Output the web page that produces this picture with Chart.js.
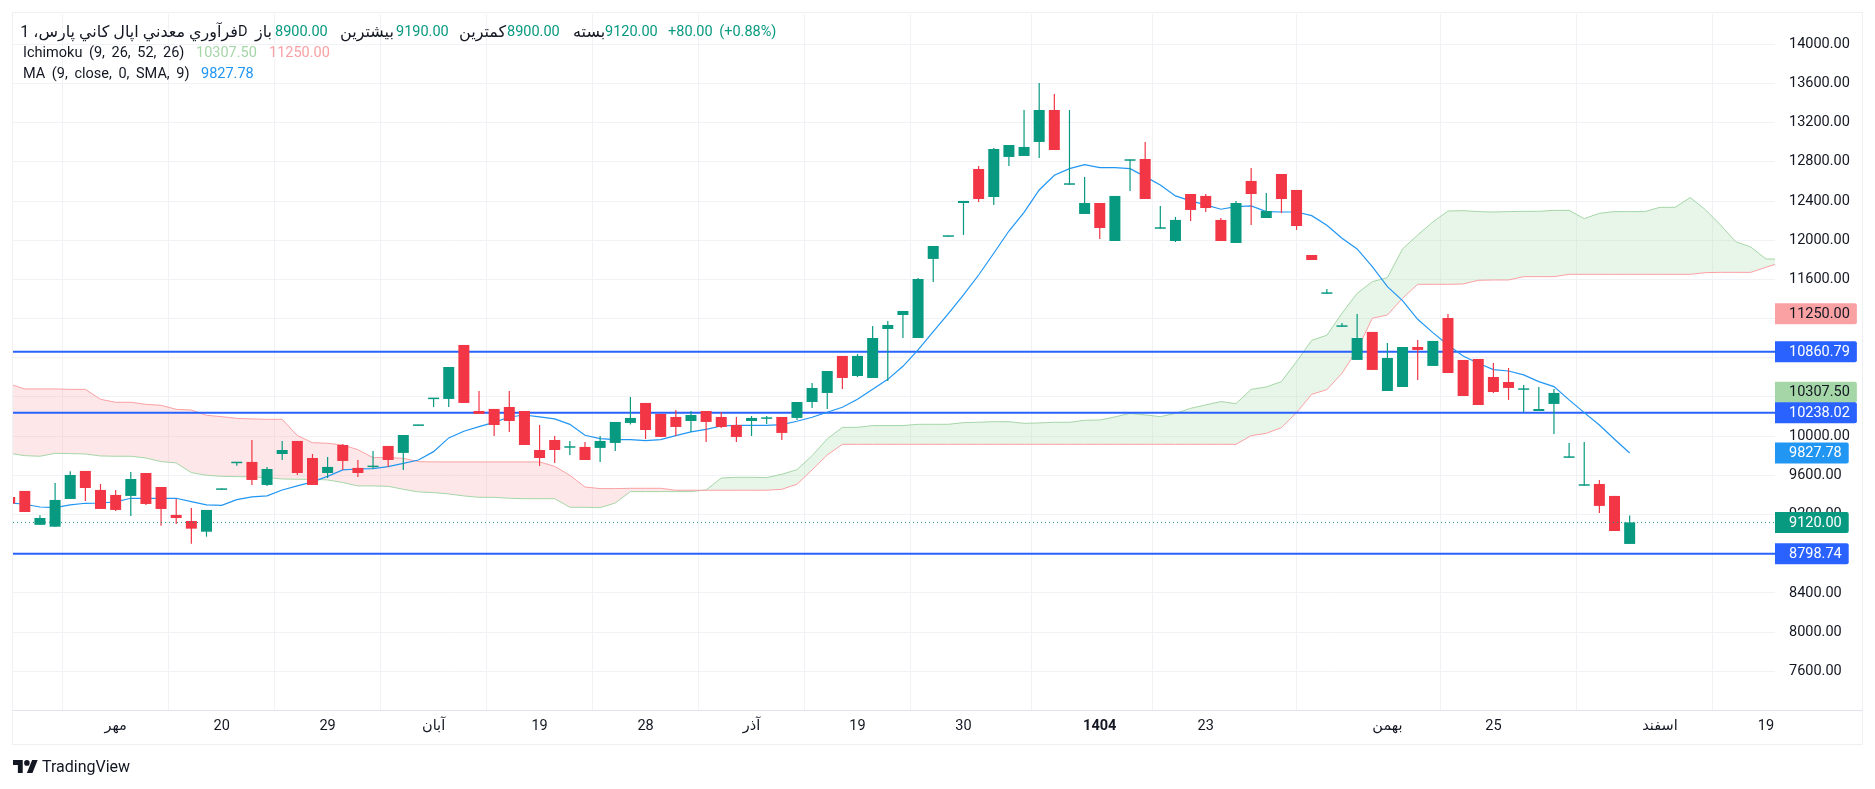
<!DOCTYPE html>
<html>
<head>
<meta charset="utf-8">
<style>
  html, body { margin: 0; background: #fff; overflow: hidden; }
  body { width: 1875px; height: 789px; position: relative; font: 14.5px Roboto, "DejaVu Sans", sans-serif; color: #131722; }
  #frame { position: absolute; left: 12px; top: 12px; width: 1849px; height: 731px; border: 1.5px solid #eef0f4; }
  #axisline { position: absolute; left: 1775px; top: 710px; width: 87px; height: 1px; background: #e0e3eb; }
  canvas { position: absolute; left: 0; top: 0; }
  .t { position: absolute; white-space: nowrap; line-height: 18px; word-spacing: 3px; }
  .fa { font-size: 16px; word-spacing: 0; }
  .up { color: #089981; }
  #logo { position: absolute; left: 13px; top: 760px; width: 25px; height: 13px; }
</style>
</head>
<body>
<div id="frame"></div>
<div id="axisline"></div>
<canvas id="grafico" width="1875" height="789" style="width:1875px;height:789px"></canvas>

<span class="t fa" dir="rtl" style="right:1637px;top:23px">فرآوري معدني اپال كاني پارس، 1</span>
<span class="t" style="left:238px;top:23px">D</span>
<span class="t fa" style="left:255px;top:23px">باز</span>
<span class="t up" style="left:275px;top:23px">8900.00</span>
<span class="t fa" style="left:340px;top:23px">بیشترین</span>
<span class="t up" style="left:396px;top:23px">9190.00</span>
<span class="t fa" style="left:459px;top:23px">کمترین</span>
<span class="t up" style="left:507px;top:23px">8900.00</span>
<span class="t fa" style="left:573px;top:23px">بسته</span>
<span class="t up" style="left:605px;top:23px">9120.00</span>
<span class="t up" style="left:668px;top:23px">+80.00 (+0.88%)</span>
<span class="t" style="left:23px;top:44px">Ichimoku (9, 26, 52, 26)</span>
<span class="t" style="left:196px;top:44px;color:#a5d6a7">10307.50</span>
<span class="t" style="left:269px;top:44px;color:#faa1a4">11250.00</span>
<span class="t" style="left:23px;top:65px">MA (9, close, 0, SMA, 9)</span>
<span class="t" style="left:201px;top:65px;color:#2196f3">9827.78</span>

<svg id="logo" viewBox="0 4 36 18" preserveAspectRatio="none"><path fill="#131722" d="M14 22H7V11H0V4h14v18zM28 22h-8l7.5-18h8L28 22z"/><circle fill="#131722" cx="20" cy="8" r="4"/></svg>
<span class="t" style="left:42px;top:758px;font-size:16px">TradingView</span>

<script src="https://cdn.jsdelivr.net/npm/chart.js"></script>
<script>
  // indice 0 = barra de مهر; a primeira vela fica cortada na borda esquerda
  const firstBar = -7;

  const opens = [9379,9441,9095,9076,9359,9645,9451,9400,9390,9624,9481,9196,9134,9025,9452,9724,9737,9502,9818,9951,
    9777,9624,9910,9676,9684,9900,9829,10105,10378,10380,10931,10257,10278,10298,10257,9859,9961,9882,9890,9880,
    9931,10135,10339,10227,10196,10155,10257,10196,10114,10155,10177,10196,10186,10349,10441,10819,10614,10594,11094,11237,
    11002,11809,12035,12380,12727,12441,12850,12860,13003,13329,12566,12268,12380,11992,12811,12829,12117,11992,12472,12452,
    12207,11972,12605,12227,12676,12513,11849,11453,11116,10778,11064,10461,10502,10910,10717,11206,10778,10788,10604,10553,
    10473,10257,10329,9779,9494,9512,9390,8900];
  const highs = [9379,9441,9192,9522,9641,9645,9512,9451,9635,9624,9481,9359,9267,9247,9465,9735,9961,9686,9951,9951,
    9818,9788,9920,9757,9849,9900,10012,10115,10388,10706,10931,10461,10278,10461,10257,10114,10002,9951,9941,10002,
    10145,10400,10339,10227,10267,10257,10257,10247,10196,10206,10206,10196,10349,10543,10665,10819,10839,11125,11176,11278,
    11615,11941,12045,12401,12758,12942,12972,13329,13605,13493,13329,12645,12380,12452,12821,13003,12350,12237,12472,12472,
    12227,12401,12737,12482,12676,12513,11849,11502,11155,11247,11064,10951,10910,10982,10972,11247,10778,10788,10747,10696,
    10522,10502,10482,9930,9941,9553,9390,9190];
  const lows = [9311,9226,9095,9076,9359,9339,9257,9237,9186,9298,9085,9104,8903,8974,9452,9699,9502,9492,9757,9604,
    9502,9573,9655,9584,9665,9686,9655,10105,10298,10298,10339,10227,10002,10043,9910,9696,9727,9808,9757,9737,
    9849,10120,9971,9992,10002,10043,9941,10084,9941,10002,10125,9961,10165,10288,10278,10482,10604,10594,10563,11002,
    11002,11574,12035,12054,12390,12360,12758,12860,12839,12921,12566,12268,12013,11992,12503,12421,12117,11982,12196,12288,
    11992,11972,12156,12227,12278,12105,11798,11453,11116,10778,10676,10461,10502,10574,10717,10645,10410,10318,10441,10370,
    10247,10257,10022,9779,9494,9216,9032,8900];
  const closes = [9311,9226,9165,9349,9604,9471,9257,9247,9563,9308,9257,9165,9056,9247,9465,9735,9553,9665,9859,9624,
    9502,9686,9747,9624,9695,9757,10012,10115,10388,10706,10339,10227,10114,10155,9910,9777,9859,9892,9757,9951,
    10145,10186,10063,9992,10094,10216,10145,10094,9992,10186,10187,10033,10349,10492,10665,10594,10819,11002,11135,11278,
    11604,11941,12045,12401,12421,12931,12972,12952,13329,12921,12576,12380,12125,12452,12821,12421,12127,12207,12309,12329,
    11992,12380,12472,12298,12421,12145,11798,11463,11126,11002,10676,10798,10910,10880,10972,10645,10410,10318,10451,10492,
    10483,10277,10441,9789,9504,9288,9032,9120];

  const maValues = [9320,9305,9277,9270,9298,9315,9318,9329,9366,9366,9366,9366,9332,9298,9294,9352,9380,9390,9451,9492,
    9533,9590,9655,9665,9669,9689,9723,9757,9842,9982,10050,10097,10141,10196,10216,10196,10176,10121,10009,9975,
    9965,9965,9955,9965,10006,10043,10070,10104,10111,10111,10111,10118,10152,10193,10244,10295,10376,10478,10580,10713,
    10880,11067,11251,11441,11645,11867,12094,12285,12513,12663,12731,12771,12741,12741,12731,12649,12564,12452,12401,12360,
    12316,12343,12350,12292,12288,12288,12251,12152,12020,11911,11730,11526,11383,11193,11057,10931,10819,10744,10679,10665,
    10625,10557,10506,10370,10240,10114,9968,9827.78];

  const spanA = [9825,9801,9795,9825,9822,9818,9798,9795,9795,9777,9740,9727,9628,9601,9590,9587,9584,9577,9563,9560,
    9560,9553,9526,9492,9492,9488,9458,9431,9424,9410,9390,9376,9376,9366,9362,9362,9362,9274,9274,9270,
    9318,9434,9434,9434,9434,9434,9451,9573,9580,9580,9577,9611,9658,9801,9972,10090,10090,10108,10108,10108,
    10121,10121,10121,10138,10142,10148,10148,10131,10135,10142,10142,10162,10165,10196,10233,10217,10199,10233,10284,10319,
    10353,10332,10478,10502,10557,10761,10978,11030,11254,11458,11577,11618,11911,12054,12186,12298,12302,12292,12288,12292,
    12295,12295,12305,12305,12220,12275,12292,12292,12292,12336,12336,12435,12312,12156,11985,11931,11809,11805];
  const spanB = [10530,10482,10482,10482,10478,10478,10376,10346,10346,10325,10315,10274,10267,10213,10199,10182,10176,10172,10172,10006,
    9934,9927,9910,9862,9781,9781,9774,9740,9737,9737,9737,9737,9737,9737,9737,9737,9692,9601,9481,9465,
    9465,9468,9468,9468,9448,9448,9448,9448,9448,9448,9448,9458,9509,9655,9808,9917,9917,9917,9917,9917,
    9917,9917,9917,9917,9917,9917,9917,9917,9917,9917,9917,9917,9917,9917,9917,9917,9917,9917,9917,9917,
    9917,9917,10005,10029,10087,10240,10427,10475,10642,10880,11203,11237,11407,11550,11550,11550,11553,11591,11594,11594,
    11628,11628,11628,11652,11652,11652,11652,11652,11652,11652,11652,11652,11669,11672,11672,11672,11724,11771];

  const levelValues = [10860.79, 10238.02, 8798.74];
  const lastClose = 9120;

  const priceTicks = [7600,8000,8400,8800,9200,9600,10000,10400,10800,11200,11600,12000,12400,12800,13200,13600,14000];
  const timeTicks = [0,7,14,21,28,35,42,49,56,65,72,84,91,102,109];
  const timeLabels = ["مهر","20","29","آبان","19","28","آذر","19","30","1404","23","بهمن","25","اسفند","19"];

  const tagValues = [11250, 10860.79, 10307.5, 10238.02, 9827.78, 9120, 8798.74];
  const tagColors = ["#faa1a4","#2962ff","#a5d6a7","#2962ff","#2196f3","#089981","#2962ff"];
  const tagTextColors = ["#131722","#fff","#131722","#fff","#fff","#fff","#fff"];

  const xMin = -6.78, xMax = 109.6;
  const UP = "#089981", DOWN = "#f23645";
  const FONT = 'Roboto, "DejaVu Sans", sans-serif';

  const serie = (vals) => vals.map((y, i) => ({ x: firstBar + i, y }));
  const velaCor = opens.map((o, i) => closes[i] >= o ? UP : DOWN);
  const nivel = (y) => [{ x: xMin, y }, { x: xMax, y }];

  // etiquetas de preco no eixo direito, empilhadas quando se sobrepoem
  const etiquetas = {
    id: "etiquetas",
    afterDraw(chart) {
      const { ctx, chartArea, scales } = chart;
      const h = 21;
      let prev = Infinity;
      const pos = tagValues.map((v, i) => i).reverse().map(i => {
        const y = Math.min(scales.y.getPixelForValue(tagValues[i]), prev - h + 0.5);
        prev = y;
        return { i, y };
      });
      ctx.save();
      ctx.font = "14.5px " + FONT;
      ctx.textBaseline = "middle";
      // de cima para baixo, a azul fica por cima da verde
      pos.reverse().forEach(({ i, y }) => {
        const txt = tagValues[i].toFixed(2);
        const w = 14 + ctx.measureText(txt).width + 7;
        ctx.fillStyle = tagColors[i];
        ctx.beginPath();
        ctx.roundRect(chartArea.right, y - h / 2, w, h, [0, 2, 2, 0]);
        ctx.fill();
        ctx.fillStyle = tagTextColors[i];
        ctx.fillText(txt, chartArea.right + 14, y + 0.5);
      });
      ctx.restore();
    }
  };

  new Chart(document.getElementById("grafico").getContext("2d"), {
    data: {
      datasets: [
        { type: "line", data: serie(spanA), borderColor: "#a5d6a7", borderWidth: 1, pointRadius: 0, order: 9,
          fill: { target: 1, above: "rgba(165,214,167,0.25)", below: "rgba(250,161,164,0.25)" } },
        { type: "line", data: serie(spanB), borderColor: "#faa1a4", borderWidth: 1, pointRadius: 0, order: 8 },
        ...levelValues.map(v => ({ type: "line", data: nivel(v), borderColor: "#2962ff", borderWidth: 2, pointRadius: 0, order: 7 })),
        { type: "line", data: serie(maValues), borderColor: "#2196f3", borderWidth: 1.2, pointRadius: 0, order: 6 },
        { type: "bar", data: highs.map((h, i) => ({ x: firstBar + i, y: [lows[i], h] })), backgroundColor: velaCor,
          barThickness: 1.2, grouped: false, inflateAmount: 0, order: 5 },
        { type: "bar", data: opens.map((o, i) => ({ x: firstBar + i, y: [o, closes[i]] })), backgroundColor: velaCor,
          barThickness: 11, grouped: false, inflateAmount: 0, minBarLength: 1.5, order: 4 },
        { type: "line", data: nivel(lastClose), borderColor: UP, borderWidth: 1, borderDash: [1, 3], pointRadius: 0, order: 3 },
      ]
    },
    options: {
      responsive: false,
      animation: false,
      devicePixelRatio: 1,
      layout: { padding: { left: 13, top: 14, right: 13, bottom: 45 } },
      plugins: { legend: { display: false }, tooltip: { enabled: false } },
      scales: {
        x: {
          type: "linear", min: xMin, max: xMax, offset: false,
          afterBuildTicks(s) { s.ticks = timeTicks.map(value => ({ value })); },
          afterFit(s) { s.height = 34; s.paddingLeft = 0; s.paddingRight = 0; },
          grid: { color: "#f1f2f5", drawTicks: false },
          border: { color: "#e0e3eb" },
          ticks: {
            autoSkip: false, maxRotation: 0, padding: 8, color: "#131722",
            font: (c) => ({ family: FONT, size: 14.5, weight: c.tick && c.tick.value === 65 ? "bold" : "normal" }),
            callback: (v) => timeLabels[timeTicks.indexOf(v)]
          }
        },
        y: {
          position: "right", min: 7205, max: 14309,
          afterBuildTicks(s) { s.ticks = priceTicks.map(value => ({ value })); },
          afterFit(s) { s.width = 87; s.paddingTop = 0; s.paddingBottom = 0; },
          grid: { color: "#f1f2f5", drawTicks: false },
          border: { display: false },
          ticks: {
            padding: 14, color: "#131722", font: { family: FONT, size: 14.5 },
            callback: (v) => v.toFixed(2)
          }
        }
      }
    },
    plugins: [etiquetas]
  });
</script>
</body>
</html>
